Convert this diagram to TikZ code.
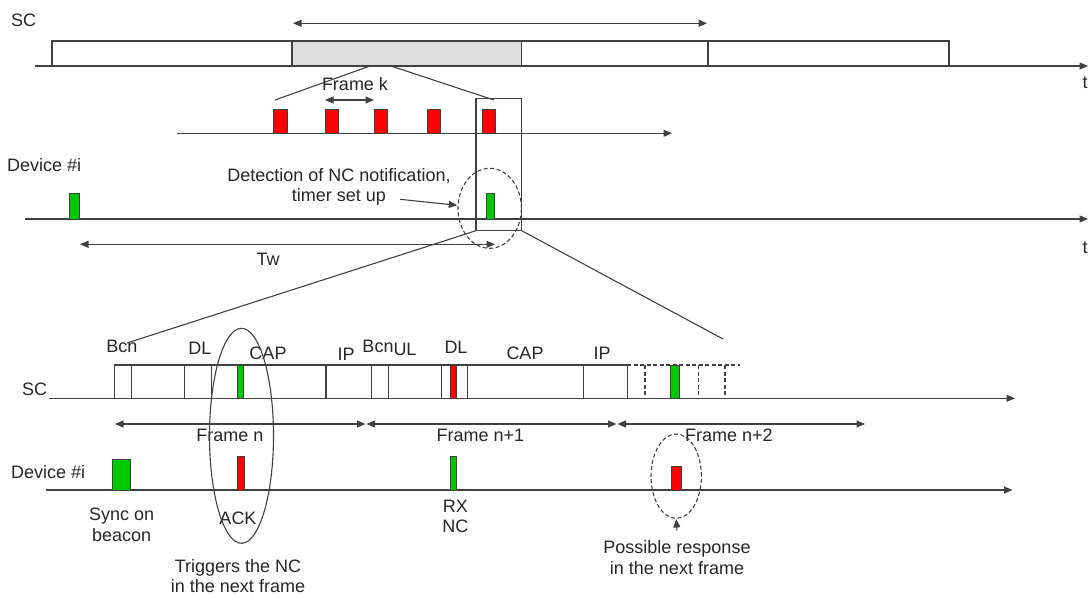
\documentclass[tikz,border=0pt]{standalone}
\usepackage{fontspec}
\setmainfont{Liberation Sans}
\usetikzlibrary{arrows.meta,shapes.geometric}

\definecolor{pulsegreen}{RGB}{0,200,0}
\definecolor{linegray}{RGB}{64,64,64}

\tikzset{
  line/.style={draw=linegray, line width=1.1pt},
  tip/.style={line, -{Triangle[length=8.5pt,width=7pt]}},
  both/.style={line, {Triangle[length=8.5pt,width=7pt]}-{Triangle[length=8.5pt,width=7pt]}},
  dline/.style={line, dash pattern=on 4pt off 2.5pt},
  redpulse/.style={draw=linegray, line width=0.9pt, fill=red},
  greenpulse/.style={draw=linegray, line width=0.9pt, fill=pulsegreen},
  ring/.style={ellipse, line, inner sep=0pt},
  lbl/.style={inner sep=0pt, align=center, text=black!85,
    font=\fontsize{18}{20.5}\selectfont}
}

\begin{document}
\begin{tikzpicture}[x=1pt, y=-1pt]
  \useasboundingbox (0,0) rectangle (1089,597);

  % SC superframes
  \node[lbl, anchor=west] (sctop) at (11,20) {SC};
  \coordinate (supl) at (293,23.3);
  \coordinate (supr) at (707,23.3);
  \draw[both] (supl) -- (supr);
  \draw[line] (52,66) rectangle (292,41);
  \draw[line, fill=black!13] (292,66) rectangle (521.5,41);
  \draw[line] (521.5,66) rectangle (708,41);
  \draw[line] (708,66) rectangle (949,41);
  \coordinate (scs) at (35,66);
  \coordinate (sce) at (1088,66);
  \draw[tip] (scs) -- (sce);
  \node[lbl] (ttop) at (1085,83) {t};

  % Zoom on the frames
  \coordinate (zka) at (370,66);
  \coordinate (zkb) at (391,66);
  \coordinate (zkc) at (275,100);
  \coordinate (zkd) at (494,100);
  \draw[line] (zka) -- (zkc);
  \draw[line] (zkb) -- (zkd);
  \node[lbl] (framek) at (355,84) {Frame k};
  \coordinate (fkl) at (325,100);
  \coordinate (fkr) at (374,100);
  \draw[both] (fkl) -- (fkr);
  \foreach \x in {273.5,325,374,427,482} {
    \draw[redpulse] (\x,109.3) rectangle ++(13.5,24);
  }
  \coordinate (bcs) at (177,133.3);
  \coordinate (bce) at (672,133.3);
  \draw[tip] (bcs) -- (bce);

  % Zoom window
  \draw[line] (476,98.3) rectangle (521.7,230.7);
  \coordinate (zwl) at (476,230.7);
  \coordinate (zwr) at (521.7,230.7);

  % Device #i, long time scale
  \node[lbl, anchor=west] (devtop) at (7,165) {Device \#i};
  \coordinate (dvs) at (25,219);
  \coordinate (dve) at (1088,219);
  \draw[tip] (dvs) -- (dve);
  \node[lbl] (tmid) at (1085,248) {t};
  \draw[greenpulse] (69.5,193.3) rectangle (79.3,219);
  \draw[greenpulse] (486.5,193.3) rectangle (494.8,219);
  \node[ring, dline, minimum width=63.4pt, minimum height=80pt] (detring) at (489.7,208.3) {};
  \node[lbl] (detect) at (339,187) {Detection of NC notification,\\timer set up};
  \coordinate (deta) at (400,199.3);
  \coordinate (detb) at (457.3,205.3);
  \draw[tip] (deta) -- (detb);
  \coordinate (twl) at (80,244.3);
  \coordinate (twr) at (495,244.3);
  \draw[both] (twl) -- (twr);
  \node[lbl] (tw) at (268,259) {Tw};

  % Zoom lines to the frame detail
  \coordinate (zfl) at (127,343);
  \coordinate (zfr) at (723,339);
  \draw[line] (zwl) -- (zfl);
  \draw[line] (zwr) -- (zfr);

  % Frame detail, SC side
  \node[lbl, anchor=west] (scbot) at (22,389) {SC};
  \coordinate (fss) at (49,398.3);
  \coordinate (fse) at (1015,398.3);
  \draw[line] (114.3,398.3) -- (114.3,365) -- (627.3,365) -- (627.3,398.3);
  \foreach \x in {131.7,184.3,211.7,326,371.7,388.3,441.7,467.3,583.3} {
    \draw[line] (\x,365) -- (\x,398.3);
  }
  \draw[dline] (627.3,365) -- (740,365);
  \foreach \x in {645,698.3,725} {
    \draw[dline] (\x,365) -- (\x,398.3);
  }
  \draw[tip] (fss) -- (fse);
  \draw[greenpulse] (237.3,365) rectangle (243.3,398.5);
  \draw[redpulse] (450.7,365) rectangle (456,398.5);
  \draw[greenpulse] (670,365) rectangle (679,398.3);
  \foreach \x/\y/\t [count=\i] in {122/346/Bcn, 200/348/DL, 268/353/CAP,
      346/354/IP, 378/346/Bcn, 405/349/UL, 456/347/DL, 525/353/CAP, 602/353/IP} {
    \node[lbl] (slot\i) at (\x,\y) {\t};
  }

  % Frame lengths
  \coordinate (fna) at (115,424);
  \coordinate (fnb) at (365.5,424);
  \coordinate (fnc) at (366.5,424);
  \coordinate (fnd) at (616.5,424);
  \coordinate (fne) at (617.5,424);
  \coordinate (fnf) at (865,424);
  \draw[both] (fna) -- (fnb);
  \draw[both] (fnc) -- (fnd);
  \draw[both] (fne) -- (fnf);
  \node[lbl] (framen) at (230,435.5) {Frame n};
  \node[lbl] (framen1) at (480.5,435.5) {Frame n+1};
  \node[lbl] (framen2) at (729,435.5) {Frame n+2};

  % Frame detail, device side
  \node[lbl, anchor=west] (devbot) at (11,471.7) {Device \#i};
  \coordinate (fds) at (46,490);
  \coordinate (fde) at (1012.5,490);
  \draw[tip] (fds) -- (fde);
  \draw[greenpulse] (112.3,459) rectangle (130.7,490);
  \draw[redpulse] (237.4,456) rectangle (244,490);
  \draw[greenpulse] (450,456) rectangle (456.4,490);
  \draw[redpulse] (671,466.7) rectangle (681,490);
  \node[lbl] (sync) at (121.6,525) {Sync on\\beacon};
  \node[lbl] (ack) at (238,518.3) {ACK};
  \node[lbl] (rxnc) at (455.3,516.3) {RX\\NC};
  \node[lbl] (trig) at (238,576) {Triggers the NC\\in the next frame};
  \node[ring, minimum width=64pt, minimum height=215pt] (ackring) at (241.5,435.8) {};
  \node[ring, dline, minimum width=50.4pt, minimum height=84.4pt] (respring) at (676.2,476.2) {};
  \node[lbl] (resp) at (677,557.5) {Possible response\\in the next frame};
  \coordinate (respa) at (677,530.5);
  \draw[tip] (respa) -- (respring.south);
\end{tikzpicture}
\end{document}
